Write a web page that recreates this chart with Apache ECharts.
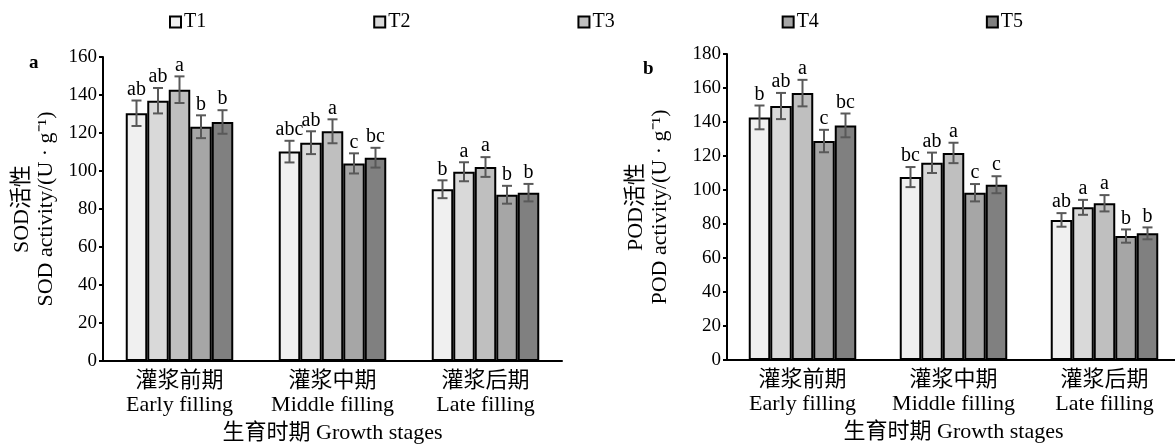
<!DOCTYPE html>
<html>
<head>
<meta charset="utf-8">
<script src="https://cdn.jsdelivr.net/npm/echarts@6/dist/echarts.min.js"></script>
<style>
html, body { margin: 0; background: #fff; }
#chart { width: 1175px; height: 444px; }
</style>
</head>
<body>
<div id="chart"></div>
<script>
const stages = ['灌浆前期\nEarly filling', '灌浆中期\nMiddle filling', '灌浆后期\nLate filling']
const treatments = ['T1', 'T2', 'T3', 'T4', 'T5']
const colors = ['#f0f0f0', '#d9d9d9', '#bfbfbf', '#a6a6a6', '#808080']

// SOD, rows = T1..T5, cols = stages
const sodMean = [
  [130.4, 110.2, 90.4],
  [137.0, 114.9, 99.6],
  [142.8, 120.9, 102.1],
  [123.3, 104.0, 87.5],
  [125.8, 107.0, 88.6]
]
const sodErr = [
  [6.7, 5.7, 4.7],
  [6.7, 6.0, 5.0],
  [7.0, 6.3, 5.2],
  [6.0, 5.3, 4.7],
  [6.2, 5.2, 4.6]
]
const sodSig = [
  ['ab', 'abc', 'b'],
  ['ab', 'ab', 'a'],
  ['a', 'a', 'a'],
  ['b', 'c', 'b'],
  ['b', 'bc', 'b']
]

// POD
const podMean = [
  [142.7, 107.6, 82.4],
  [149.4, 116.0, 89.8],
  [157.0, 121.8, 92.2],
  [128.8, 98.4, 72.9],
  [138.0, 103.1, 74.5]
]
const podErr = [
  [7.0, 5.9, 4.0],
  [7.7, 6.0, 4.4],
  [7.8, 6.0, 4.8],
  [6.6, 5.1, 3.9],
  [7.0, 5.0, 3.5]
]
const podSig = [
  ['b', 'bc', 'ab'],
  ['ab', 'ab', 'a'],
  ['a', 'a', 'a'],
  ['c', 'c', 'b'],
  ['bc', 'c', 'b']
]

const FONT = '"Liberation Serif", "Times New Roman", "Noto Sans CJK SC", serif'
const BAR_W = 21.5

const barSeries = (gi, mean) => mean.map((row, t) => ({
  type: 'bar',
  name: treatments[t],
  xAxisIndex: gi,
  yAxisIndex: gi,
  data: row,
  barWidth: BAR_W,
  barGap: '0%',
  itemStyle: { color: colors[t], borderColor: '#000', borderWidth: 2 },
  emphasis: { disabled: true }
}))

const errorSeries = (gi, mean, err, sig) => {
  const data = []
  const letters = []
  mean.forEach((row, t) => row.forEach((m, s) => {
    data.push([s, t, m - err[t][s], m + err[t][s]])
    letters.push(sig[t][s])
  }))
  return {
    type: 'custom',
    xAxisIndex: gi,
    yAxisIndex: gi,
    z: 10,
    silent: true,
    encode: { x: 0, y: [2, 3] },
    data,
    renderItem: (params, api) => {
      const s = api.value(0)
      const t = api.value(1)
      const lo = api.coord([s, api.value(2)])
      const hi = api.coord([s, api.value(3)])
      const x = lo[0] + (t - 2) * BAR_W
      const cap = 5
      const st = { stroke: '#595959', lineWidth: 2 }
      return {
        type: 'group',
        children: [
          { type: 'line', shape: { x1: x, y1: lo[1], x2: x, y2: hi[1] }, style: st },
          { type: 'line', shape: { x1: x - cap, y1: lo[1], x2: x + cap, y2: lo[1] }, style: st },
          { type: 'line', shape: { x1: x - cap, y1: hi[1], x2: x + cap, y2: hi[1] }, style: st },
          {
            type: 'text',
            x: x,
            y: hi[1] - 1,
            style: {
              text: letters[params.dataIndex],
              fill: '#000',
              font: '20px ' + FONT,
              align: 'center',
              verticalAlign: 'bottom'
            }
          }
        ]
      }
    }
  }
}

const xAxisOf = gi => ({
  type: 'category',
  gridIndex: gi,
  data: stages,
  axisLine: { lineStyle: { color: '#000', width: 2 } },
  axisTick: { show: false },
  axisLabel: { color: '#000', fontSize: 22, lineHeight: 24, fontFamily: FONT, margin: 8, interval: 0 },
  name: '生育时期 Growth stages',
  nameLocation: 'middle',
  nameGap: 57,
  nameTextStyle: { color: '#000', fontSize: 22, fontFamily: FONT }
})

const yAxisOf = (gi, max, name, gap) => ({
  type: 'value',
  gridIndex: gi,
  min: 0,
  max: max,
  interval: 20,
  axisLine: { show: true, lineStyle: { color: '#000', width: 2 } },
  axisTick: { show: true, length: 4, lineStyle: { color: '#000', width: 2 } },
  splitLine: { show: false },
  axisLabel: { color: '#000', fontSize: 19, fontFamily: FONT, margin: 6 },
  name: name,
  nameLocation: 'middle',
  nameRotate: 90,
  nameGap: gap,
  nameTextStyle: { color: '#000', fontSize: 22, lineHeight: 24, fontFamily: FONT }
})

const chart = echarts.init(document.getElementById('chart'))
chart.setOption({
  animation: false,
  backgroundColor: '#fff',
  legend: {
    data: treatments,
    left: 164,
    top: 7,
    itemWidth: 11,
    itemHeight: 11,
    itemGap: 167,
    icon: 'rect',
    textStyle: { color: '#000', fontSize: 20, fontFamily: FONT, padding: [0, 0, 0, -2] }
  },
  grid: [
    { left: 103, top: 57, width: 459, height: 304, outerBoundsMode: 'none', containLabel: false },
    { left: 727, top: 54, width: 453, height: 306, outerBoundsMode: 'none', containLabel: false }
  ],
  xAxis: [xAxisOf(0), xAxisOf(1)],
  yAxis: [
    yAxisOf(0, 160, 'SOD活性\nSOD activity/(U · g⁻¹)', 45),
    yAxisOf(1, 180, 'POD活性\nPOD activity/(U · g⁻¹)', 55)
  ],
  graphic: [
    { type: 'text', left: 29, top: 54, style: { text: 'a', fill: '#000', font: 'bold 19px ' + FONT } },
    { type: 'text', left: 643, top: 60, style: { text: 'b', fill: '#000', font: 'bold 19px ' + FONT } }
  ],
  series: [
    ...barSeries(0, sodMean),
    ...barSeries(1, podMean),
    errorSeries(0, sodMean, sodErr, sodSig),
    errorSeries(1, podMean, podErr, podSig)
  ]
})
window.addEventListener('resize', () => chart.resize())
</script>
</body>
</html>
